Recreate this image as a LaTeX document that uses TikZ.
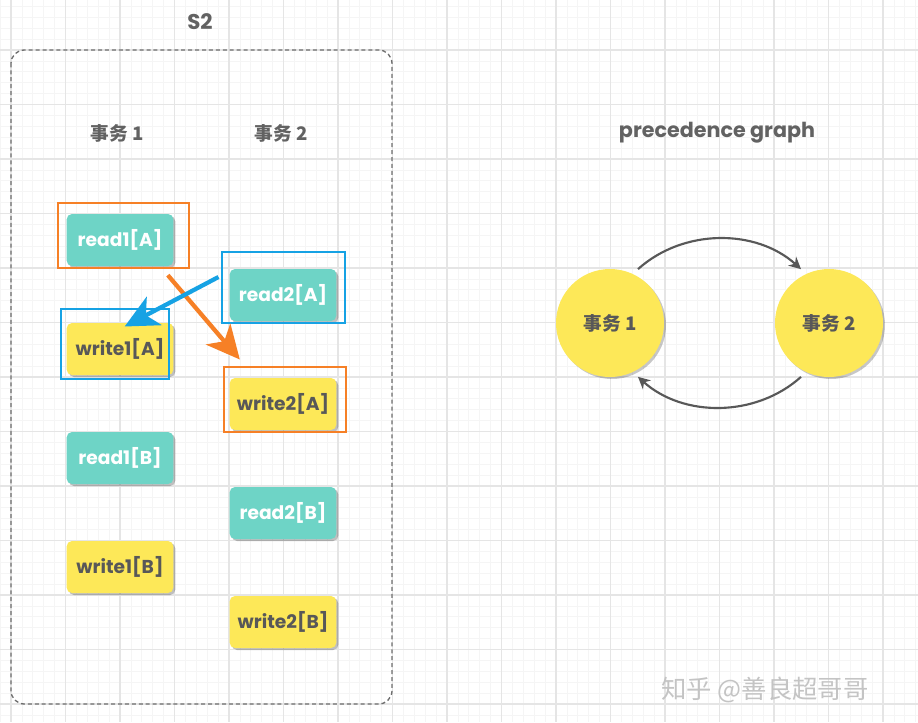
\documentclass[tikz,border=0pt]{standalone}
\usepackage{fontspec}
\setmainfont{Poppins}
\newfontfamily\cjk{Noto Sans CJK SC}
\usetikzlibrary{arrows.meta,shadows}

\definecolor{tealbox}{RGB}{110,212,198}
\definecolor{yellowbox}{RGB}{253,232,88}
\definecolor{inkgray}{RGB}{88,88,88}
\definecolor{headgray}{RGB}{98,98,98}
\definecolor{hlorange}{RGB}{246,128,38}
\definecolor{hlblue}{RGB}{22,162,228}
\definecolor{gridmajor}{RGB}{229,229,229}
\definecolor{gridminor}{RGB}{245,245,245}

\tikzset{every picture/.style={line width=0.75pt}}
\tikzset{
  opbox/.style={rounded corners=4pt, minimum width=80pt, minimum height=39pt, inner sep=0pt,
    font=\bfseries\fontsize{14}{16}\selectfont,
    drop shadow={shadow xshift=1.5pt, shadow yshift=-1.5pt, fill=black, opacity=0.25}},
  readbox/.style={opbox, fill=tealbox, text=white},
  writebox/.style={opbox, fill=yellowbox, text=inkgray},
  txnode/.style={circle, fill=yellowbox, minimum size=81pt, inner sep=0pt, text=inkgray,
    font=\cjk\bfseries\fontsize{14}{16}\selectfont,
    drop shadow={shadow xshift=1.5pt, shadow yshift=-1.5pt, fill=black, opacity=0.22}},
  headtext/.style={text=headgray, font=\bfseries\fontsize{13.5}{16}\selectfont},
  hlbox/.style={line width=1.8pt},
  edge/.style={draw=inkgray, line width=1.6pt, -{Stealth[length=9pt,width=9pt]}},
  bigarrow/.style={line width=3.2pt, -{Stealth[length=25pt,width=24pt,inset=7pt]}}
}

\begin{document}
\begin{tikzpicture}[x=0.75pt,y=0.75pt,yscale=-1,xscale=1]
\useasboundingbox (0,0) rectangle (918,722);
\fill[white] (0,0) rectangle (918,722);

% grid
\foreach \i in {-1,...,83} \draw[gridminor, line width=0.6pt] ({11+10.9*\i},0) -- ({11+10.9*\i},722);
\foreach \j in {0,...,67} \draw[gridminor, line width=0.6pt] (0,{-4.5+10.9*\j}) -- (918,{-4.5+10.9*\j});
\foreach \i in {0,...,16} \draw[gridmajor, line width=0.9pt] ({11+54.5*\i},0) -- ({11+54.5*\i},722);
\foreach \j in {0,...,13} \draw[gridmajor, line width=0.9pt] (0,{-4.5+54.5*\j}) -- (918,{-4.5+54.5*\j});

% schedule S2
\draw[color={rgb, 255:red, 110; green, 110; blue, 110}, line width=1pt, dash pattern=on 3pt off 2.2pt, rounded corners=10pt] (11,50) rectangle (392,704);
\node (title) at (200,22) [text=headgray, font=\bfseries\fontsize{16}{18}\selectfont] {S2};
\node (head1) at (117,133) [headtext, font=\cjk\bfseries\fontsize{14}{16}\selectfont] {事务 1};
\node (head2) at (281,133) [headtext, font=\cjk\bfseries\fontsize{14}{16}\selectfont] {事务 2};

\node (read1a) at (120,240) [readbox] {read1[A]};
\node (read2a) at (283,295) [readbox] {read2[A]};
\node (write1a) at (120,349) [writebox] {write1[A]};
\node (write2a) at (283,404) [writebox] {write2[A]};
\node (read1b) at (120,458) [readbox] {read1[B]};
\node (read2b) at (283,513) [readbox] {read2[B]};
\node (write1b) at (120,567) [writebox] {write1[B]};
\node (write2b) at (283,622) [writebox] {write2[B]};

% conflict highlights
\draw[hlbox, hlorange] (58,203) rectangle (189,268);
\draw[hlbox, hlorange] (224,367) rectangle (346,432);
\draw[hlbox, hlblue] (222,252) rectangle (345,323);
\draw[hlbox, hlblue] (61,309) rectangle (169,379);

\draw[bigarrow, hlorange] ([xshift=-4.5pt,yshift=6.5pt]read1a.south east) -- ([xshift=8pt,yshift=-13.5pt]write2a.north west);
\draw[bigarrow, hlblue] ([xshift=-8pt,yshift=-13.5pt]read2a.west) -- ([xshift=3.5pt,yshift=3pt]write1a.north);

% precedence graph
\node (graphtitle) at (717,133) [text=headgray, font=\bfseries\fontsize{15.5}{18}\selectfont] {precedence graph};
\node (tx1) at (610,323) [txnode] {事务 1};
\node (tx2) at (829,323) [txnode] {事务 2};
\draw[edge, shorten <=5pt, shorten >=5pt] (tx1.65) to[out=-42,in=-138] (tx2.115);
\draw[edge, shorten <=5pt, shorten >=5pt] (tx2.-115) to[out=138,in=42] (tx1.-65);

\node (mark) at (765,690) [text={rgb,255:red,196;green,196;blue,196}, font=\cjk\fontsize{19}{22}\selectfont] {知乎 @善良超哥哥};

\end{tikzpicture}
\end{document}
